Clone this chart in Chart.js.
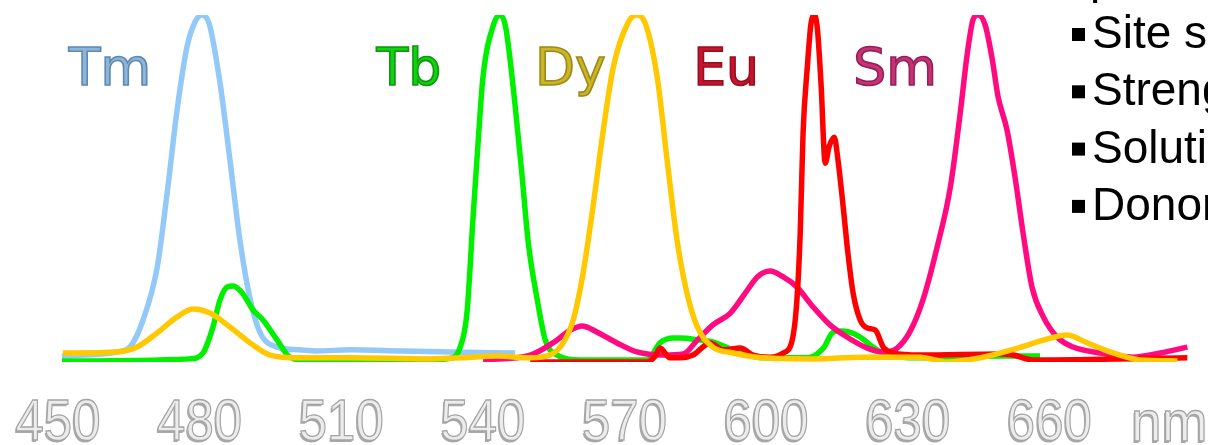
<!DOCTYPE html>
<html>
<head>
<meta charset="utf-8">
<script src="https://cdn.jsdelivr.net/npm/chart.js@4/dist/chart.umd.min.js"></script>
<style>
  html, body { margin: 0; padding: 0; background: #fff; }
  canvas { display: block; }
</style>
</head>
<body>
<canvas id="spectra" width="1208" height="445"></canvas>
<script>
// wavelength axis
const wavelengthTicks = [450, 480, 510, 540, 570, 600, 630, 660];

// Tm emission
const tmNm = [450.4, 462.1, 464.8, 467.6, 470.6, 472.7, 474.8, 476.9, 478.6, 480.1, 481.6, 483.9, 486.0, 488.1, 490.3, 492.4, 496.0, 500.8, 504.4, 511.4, 522.0, 532.6, 546.4];
const tmInt = [1.7, 2.9, 4.3, 12.1, 27.4, 48.7, 72.6, 90.8, 98.0, 100, 97.5, 80.4, 58.2, 35.2, 17.9, 8.4, 4.3, 3.5, 3.2, 3.5, 3.2, 2.9, 2.6];

// Tb emission
const tbNm = [450.4, 477.5, 480.3, 482.4, 483.9, 485.4, 486.7, 488.6, 490.9, 493.0, 496.0, 498.7, 504.4, 511.4, 528.4, 533.1, 534.7, 536.2, 537.5, 538.6, 539.6, 541.9, 543.2, 544.4, 546.4, 547.9, 549.2, 551.1, 552.8, 555.3, 560.2, 574.4, 577.1, 579.9, 581.4, 585.6, 588.3, 592.6, 598.9, 608.3, 611.7, 613.8, 615.9, 619.5, 622.2, 625.2, 632.2, 649.2, 657.6];
const tbInt = [0.3, 0.9, 2.6, 10.1, 17.9, 21.6, 21.9, 19.9, 15.0, 12.1, 6.3, 1.4, 0, 0, 0.6, 1.2, 4.0, 14.1, 41.8, 64.0, 82.1, 97.5, 100, 96.5, 74.0, 53.3, 34.3, 17.9, 6.3, 2.0, 0.6, 0.6, 5.5, 6.9, 6.9, 6.3, 5.8, 3.5, 1.2, 1.2, 4.0, 8.6, 8.9, 7.2, 4.3, 2.0, 1.2, 1.7, 1.7];

// Dy emission
const dyNm = [450.6, 462.1, 466.3, 470.6, 474.8, 478.2, 481.8, 486.0, 490.3, 494.5, 500.8, 511.4, 528.4, 535.4, 542.6, 549.6, 553.8, 556.6, 558.7, 560.8, 562.9, 565.0, 567.2, 570.4, 572.2, 574.0, 576.5, 578.6, 580.7, 582.8, 585.0, 588.3, 592.6, 598.9, 609.5, 620.1, 632.2, 637.9, 645.6, 652.8, 658.3, 663.3, 667.6, 673.1, 678.8, 686.7];
const dyInt = [2.6, 2.9, 4.3, 8.4, 13.0, 15.3, 14.1, 10.1, 5.5, 2.0, 1.2, 1.2, 0.9, 1.2, 1.7, 1.2, 2.0, 5.5, 12.1, 25.6, 44.7, 66.0, 85.0, 98.0, 100, 97.5, 82.1, 58.2, 35.2, 19.9, 10.1, 4.3, 2.6, 1.2, 0.9, 1.4, 1.4, 0, 1.4, 4.0, 6.3, 7.8, 5.5, 2.6, 0.6, 0.3];

// Eu emission
const euNm = [549.6, 574.4, 576.1, 577.1, 579.2, 581.4, 584.1, 587.7, 590.5, 594.1, 596.8, 600.4, 603.2, 605.1, 606.1, 606.8, 607.4, 608.3, 609.1, 609.7, 610.4, 611.2, 612.1, 612.9, 614.0, 614.8, 615.9, 616.9, 618.0, 619.5, 621.0, 622.7, 624.4, 626.5, 632.2, 649.2, 651.9, 656.1, 688.8];
const euInt = [0, 0, 1.7, 4.0, 1.2, 1.2, 2.0, 5.5, 3.5, 4.0, 2.0, 1.4, 2.6, 6.3, 17.9, 37.2, 66.0, 85.0, 97.7, 100, 96.5, 80.4, 57.3, 62.0, 64.8, 58.2, 44.7, 31.4, 19.9, 12.1, 9.8, 9.2, 4.3, 2.6, 2.0, 2.3, 2.0, 0.6, 1.2];

// Sm emission
const smNm = [539.6, 549.6, 554.4, 558.1, 560.6, 563.8, 568.0, 572.2, 577.8, 582.0, 585.0, 588.3, 592.0, 595.6, 597.7, 600.4, 603.2, 606.1, 609.5, 613.1, 616.7, 621.0, 624.4, 627.3, 630.1, 632.8, 635.8, 638.6, 640.7, 642.2, 643.4, 644.5, 646.0, 647.5, 648.7, 650.6, 652.3, 654.0, 655.9, 658.3, 661.2, 664.6, 670.3, 677.3, 683.1, 688.8];
const smInt = [0.6, 2.0, 5.5, 9.2, 10.4, 8.6, 5.5, 2.9, 2.0, 2.3, 6.3, 10.7, 14.1, 20.7, 24.5, 26.2, 24.5, 21.6, 15.9, 10.7, 7.2, 4.0, 2.9, 4.0, 8.9, 17.9, 33.1, 50.4, 71.8, 89.0, 98.6, 100, 97.0, 87.0, 76.5, 66.9, 53.3, 37.2, 21.6, 13.0, 7.2, 4.3, 2.6, 1.4, 2.6, 4.3];

const bulletLines = ['Site s', 'Streng', 'Soluti', 'Donor'];

function pts(xs, ys) {
    return xs.map((x, i) => ({ x: x, y: ys[i] }));
}

function line(label, xs, ys, color) {
    return {
        label: label,
        data: pts(xs, ys),
        borderColor: color,
        borderWidth: 5.5,
        pointRadius: 0,
        cubicInterpolationMode: 'monotone',
        fill: false
    };
}

function embossText(ctx, text, x, y, sx) {
    ctx.save();
    ctx.translate(x, y);
    ctx.scale(sx, 1);
    ctx.fillStyle = '#a9a9a9';
    ctx.fillText(text, -1.5, 1.5);
    ctx.fillStyle = '#ececec';
    ctx.fillText(text, 0, 0);
    ctx.strokeStyle = '#a4a4a4';
    ctx.lineWidth = 1.3;
    ctx.strokeText(text, 0, 0);
    ctx.restore();
}

const decorPlugin = {
    id: 'decor',
    afterDraw(chart, args, opts) {
        const ctx = chart.ctx;
        const xs = chart.scales.x;
        const ys = chart.scales.y;
        ctx.save();

        // wavelength labels
        ctx.font = '58px "Liberation Sans", Arial, sans-serif';
        ctx.textAlign = 'center';
        ctx.textBaseline = 'alphabetic';
        wavelengthTicks.forEach(t => embossText(ctx, String(t), xs.getPixelForValue(t) - 2, 440, 0.88));
        embossText(ctx, 'nm', xs.getPixelForValue(685), 441, 0.95);

        // element names
        ctx.font = '52px "DejaVu Sans", sans-serif';
        opts.names.forEach(n => {
            const px = xs.getPixelForValue(n.nm);
            const py = ys.getPixelForValue(n.v);
            ctx.fillStyle = n.fill;
            ctx.fillText(n.text, px, py);
            ctx.strokeStyle = n.edge;
            ctx.lineWidth = 1.6;
            ctx.strokeText(n.text, px, py);
        });

        // bullet text on the right
        ctx.textAlign = 'left';
        ctx.font = '46px "Liberation Sans", Arial, sans-serif';
        ctx.fillStyle = '#000';
        bulletLines.forEach((t, i) => {
            const base = 48 + i * 57.3;
            ctx.fillRect(1072, base - 20, 13, 13);
            ctx.fillText(t, 1092, base);
        });
        ctx.fillText('p', 1090, -7);
        ctx.restore();
    }
};

const chart = new Chart(document.getElementById('spectra').getContext('2d'), {
    type: 'line',
    data: {
        datasets: [
            line('Dy', dyNm, dyInt, '#ffc800'),
            line('Eu', euNm, euInt, '#ff0000'),
            line('Sm', smNm, smInt, '#ff0a80'),
            line('Tb', tbNm, tbInt, '#00f000'),
            line('Tm', tmNm, tmInt, '#92c9f9')
        ]
    },
    options: {
        responsive: false,
        animation: false,
        layout: { padding: { left: 60, right: 15, top: 15, bottom: 83 } },
        scales: {
            x: { type: 'linear', min: 450, max: 690, display: false },
            y: { min: 0, max: 100, display: false }
        },
        plugins: {
            legend: { display: false },
            tooltip: { enabled: false },
            decor: {
                names: [
                    { text: 'Tm', nm: 460.6, v: 79.8, fill: '#8db5d9', edge: '#5f89b0' },
                    { text: 'Tb', nm: 523.9, v: 79.8, fill: '#14d014', edge: '#0a9a0a' },
                    { text: 'Dy', nm: 558.1, v: 79.8, fill: '#c9b52a', edge: '#9c8a14' },
                    { text: 'Eu', nm: 591.1, v: 79.8, fill: '#c8142c', edge: '#941020' },
                    { text: 'Sm', nm: 626.9, v: 79.8, fill: '#c83272', edge: '#93205a' }
                ]
            }
        }
    },
    plugins: [decorPlugin]
});
</script>
</body>
</html>
